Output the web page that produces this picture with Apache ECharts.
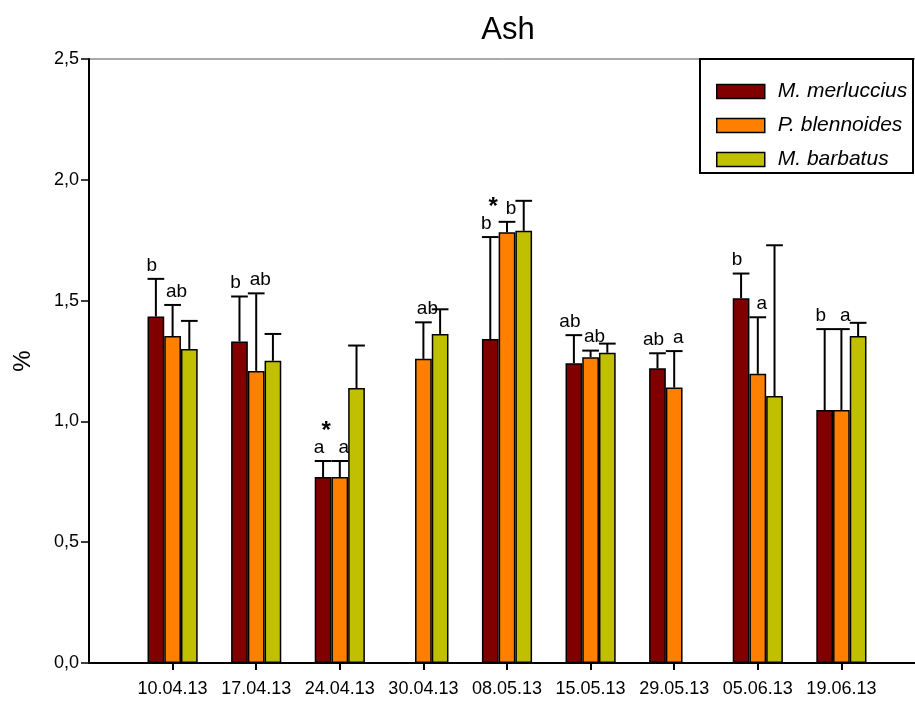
<!DOCTYPE html>
<html>
<head>
<meta charset="utf-8">
<script src="https://cdn.jsdelivr.net/npm/echarts@6/dist/echarts.min.js"></script>
<style>html,body{margin:0;padding:0;background:#fff}#c{width:915px;height:705px}</style>
</head>
<body>
<div id="c"></div>
<script>
const categories = ['10.04.13','17.04.13','24.04.13','30.04.13','08.05.13','15.05.13','29.05.13','05.06.13','19.06.13'];
const seriesNames = ['M. merluccius','P. blennoides','M. barbatus'];
const merlucciusMean = [1.434, 1.331, 0.770, null, 1.341, 1.241, 1.220, 1.510, 1.047];
const merlucciusErr  = [0.156, 0.186, 0.066, null, 0.422, 0.116, 0.062, 0.102, 0.335];
const blennoidesMean = [1.353, 1.209, 0.770, 1.259, 1.783, 1.266, 1.140, 1.197, 1.047];
const blennoidesErr  = [0.129, 0.321, 0.066, 0.151, 0.043, 0.027, 0.151, 0.234, 0.335];
const barbatusMean   = [1.300, 1.251, 1.138, 1.362, 1.789, 1.284, null, 1.105, 1.353];
const barbatusErr    = [0.116, 0.111, 0.176, 0.102, 0.124, 0.038, null, 0.624, 0.055];
const merlucciusLetters = ['b','b','a','','b','ab','ab','b','b'];
const blennoidesLetters = ['ab','ab','a','ab','b','ab','a','a','a'];
const barbatusLetters   = ['','','','','','','','',''];
const asterisks = ['','','*','','*','','','',''];
const yTicks = {min: 0, max: 2.5, interval: 0.5};

const colors = ['#800000', '#FF8000', '#C0C000'];
const FONT = "'Liberation Sans', Arial, sans-serif";
const axisCats = [''].concat(categories, ['']);

const means = [merlucciusMean, blennoidesMean, barbatusMean];
const errs = [merlucciusErr, blennoidesErr, barbatusErr];
const letters = [merlucciusLetters, blennoidesLetters, barbatusLetters];
const labelDx = [-4, 4, 0];

const series = [];
means.forEach((m, k) => {
  series.push({
    name: seriesNames[k], type: 'bar', barWidth: '20%', barGap: '0%',
    data: [null].concat(m.map(v => v == null ? '-' : v), [null]),
    itemStyle: {color: colors[k], borderColor: '#000', borderWidth: 1.5},
    z: 2
  });
});
means.forEach((m, k) => {
  const data = [];
  m.forEach((v, i) => { if (v != null) data.push([i + 1, v, errs[k][i], letters[k][i], k === 0 ? asterisks[i] : '']); });
  series.push({
    type: 'custom', z: 5, silent: true,
    data: data,
    renderItem: function (params, api) {
      const cat = api.value(0), mean = api.value(1), err = api.value(2);
      const bw = api.size([1, 0])[0] * 0.2;
      const p0 = api.coord([cat, mean]);
      const p1 = api.coord([cat, mean + err]);
      const x = p0[0] + (k - 1) * bw;
      const children = [
        {type: 'line', shape: {x1: x, y1: p0[1], x2: x, y2: p1[1]}, style: {stroke: '#000', lineWidth: 2}},
        {type: 'line', shape: {x1: x - bw / 2, y1: p1[1], x2: x + bw / 2, y2: p1[1]}, style: {stroke: '#000', lineWidth: 2}}
      ];
      const lab = data[params.dataIndex][3];
      if (lab) children.push({type: 'text', style: {text: lab, x: x + labelDx[k], y: p1[1] - 4, align: 'center', verticalAlign: 'bottom', fontSize: 19, fontFamily: FONT, fill: '#000'}});
      const ast = data[params.dataIndex][4];
      if (ast) children.push({type: 'text', style: {text: ast, x: x + 3, y: p1[1] - 30, align: 'center', verticalAlign: 'middle', fontSize: 24, fontWeight: 'bold', fontFamily: FONT, fill: '#000'}});
      return {type: 'group', children: children};
    }
  });
});

const chart = echarts.init(document.getElementById('c'), null, {renderer: 'canvas'});
chart.setOption({
  animation: false,
  backgroundColor: '#fff',
  title: {text: 'Ash', left: 503, textAlign: 'center', top: 10, textStyle: {fontSize: 31, fontWeight: 'normal', fontFamily: FONT, color: '#000'}},
  grid: {left: 89, width: 836, top: 59, height: 604, outerBoundsMode: 'none', containLabel: false, show: true, borderColor: '#555', borderWidth: 1, backgroundColor: 'transparent'},
  legend: {
    data: seriesNames, left: 711, top: 76, orient: 'vertical', itemWidth: 48, itemHeight: 14, itemGap: 13,
    icon: 'rect',
    itemStyle: {borderColor: '#000', borderWidth: 1.5},
    textStyle: {fontSize: 21, fontStyle: 'italic', fontFamily: FONT, color: '#000', padding: [0, 0, 0, 8]}
  },
  graphic: [{type: 'rect', shape: {x: 700, y: 59, width: 213, height: 114}, style: {fill: '#fff', stroke: '#000', lineWidth: 2}, z: 3}],
  xAxis: {
    type: 'category', data: axisCats, boundaryGap: false,
    axisLine: {lineStyle: {color: '#000', width: 2}},
    axisTick: {length: 7, interval: (i) => i > 0 && i < axisCats.length - 1, lineStyle: {color: '#000', width: 2}},
    axisLabel: {interval: 0, margin: 17, fontSize: 18, fontFamily: FONT, color: '#000'},
    splitLine: {show: false}
  },
  yAxis: {
    type: 'value', min: yTicks.min, max: yTicks.max, interval: yTicks.interval,
    name: '%', nameLocation: 'middle', nameGap: 54, nameRotate: 90,
    nameTextStyle: {fontSize: 24, fontFamily: FONT, color: '#000'},
    axisLine: {show: true, lineStyle: {color: '#000', width: 2}},
    axisTick: {show: true, length: 8, lineStyle: {color: '#000', width: 1.5}},
    axisLabel: {margin: 10, fontSize: 18, fontFamily: FONT, color: '#000', formatter: v => v.toFixed(1).replace('.', ',')},
    splitLine: {show: false}
  },
  series: series
});
</script>
</body>
</html>
